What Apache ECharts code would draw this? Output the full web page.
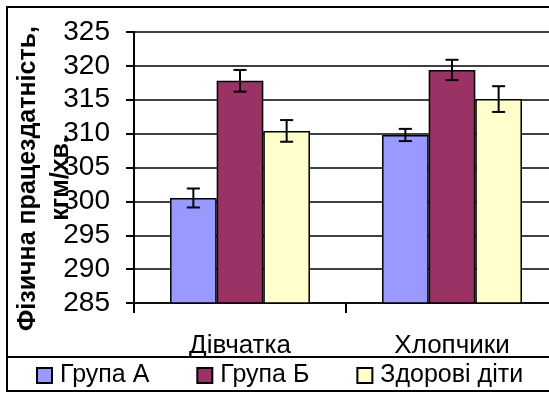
<!DOCTYPE html>
<html>
<head>
<meta charset="utf-8">
<script src="https://cdn.jsdelivr.net/npm/echarts@6/dist/echarts.min.js"></script>
<style>
html,body{margin:0;padding:0;background:#fff;}
#c{width:549px;height:394px;}
</style>
</head>
<body>
<div id="c"></div>
<script>
const categories = ['Дівчатка', 'Хлопчики'];
const seriesNames = ['Група А', 'Група Б', 'Здорові діти'];
const groupA = [300.5, 309.8];
const groupB = [317.8, 319.4];
const healthy = [310.4, 315.1];
const errA = [1.4, 0.9];
const errB = [1.6, 1.5];
const errH = [1.6, 1.9];
const yTicks = [285, 290, 295, 300, 305, 310, 315, 320, 325];
const yTitle = 'Фізична працездатність,\nкгм/хв.';

const colors = ['#9999FF', '#993366', '#FFFFCC'];
const values = [groupA, groupB, healthy];
const errs = [errA, errB, errH];
const GAP = 0.34;

const errData = [];
values.forEach((arr, k) => {
  arr.forEach((v, i) => {
    errData.push([i, v - errs[k][i], v + errs[k][i], k]);
  });
});

const FONT = "'Liberation Sans', Arial, sans-serif";

const chart = echarts.init(document.getElementById('c'), null, {renderer: 'canvas'});
const option = {
  animation: false,
  backgroundColor: '#fff',
  textStyle: {fontFamily: FONT, color: '#000'},
  grid: {left: 134, right: -9, top: 32, bottom: 91, containLabel: false, outerBoundsMode: 'none'},
  legend: {
    data: seriesNames,
    left: 36, top: 363, padding: 0,
    itemWidth: 15, itemHeight: 15, itemGap: 47,
    icon: 'rect',
    textStyle: {fontFamily: FONT, fontSize: 25, color: '#000', padding: [0, 0, 0, 3]}
  },
  xAxis: {
    type: 'category',
    data: categories,
    axisLine: {lineStyle: {color: '#000', width: 1.5}},
    axisTick: {show: true, length: 10, lineStyle: {color: '#000', width: 2}},
    axisLabel: {fontFamily: FONT, fontSize: 26, color: '#000', margin: 30}
  },
  yAxis: {
    type: 'value',
    min: yTicks[0], max: yTicks[yTicks.length - 1], interval: 5,
    name: yTitle,
    nameLocation: 'middle',
    nameRotate: 90,
    nameGap: 56,
    nameMoveOverlap: false,
    nameTextStyle: {fontFamily: FONT, fontSize: 25, fontWeight: 'bold', color: '#000', lineHeight: 33, padding: [0, 22, 0, 0]},
    axisLine: {show: true, lineStyle: {color: '#000', width: 2}},
    axisTick: {show: true, length: 8, lineStyle: {color: '#000', width: 2}},
    axisLabel: {fontFamily: FONT, fontSize: 28, color: '#000', margin: 24},
    splitLine: {show: true, lineStyle: {color: '#000', width: 1.5}}
  },
  graphic: [
    {type: 'rect', shape: {x: 7, y: 7, width: 600, height: 384}, style: {fill: 'none', stroke: '#000', lineWidth: 2}, z: 100},
    {type: 'line', shape: {x1: 7, y1: 357, x2: 560, y2: 357}, style: {stroke: '#000', lineWidth: 2}, z: 100}
  ],
  series: values.map((arr, k) => ({
    name: seriesNames[k],
    type: 'bar',
    data: arr,
    barGap: '0%',
    barCategoryGap: (GAP * 100) + '%',
    itemStyle: {color: colors[k], borderColor: '#000', borderWidth: 1.5}
  })).concat([{
    type: 'custom',
    name: 'err',
    data: errData,
    encode: {x: 0, y: [1, 2]},
    z: 10,
    renderItem: function (params, api) {
      const cat = api.value(0), lo = api.value(1), hi = api.value(2), k = api.value(3);
      const band = api.size([1, 0])[0];
      const bw = band * (1 - GAP) / 3;
      const cx = api.coord([cat, lo])[0] + (k - 1) * bw;
      const yt = api.coord([cat, hi])[1];
      const yb = api.coord([cat, lo])[1];
      const hw = 6.5;
      const st = {stroke: '#000', lineWidth: 2};
      return {type: 'group', children: [
        {type: 'line', shape: {x1: cx, y1: yt, x2: cx, y2: yb}, style: st},
        {type: 'line', shape: {x1: cx - hw, y1: yt, x2: cx + hw, y2: yt}, style: st},
        {type: 'line', shape: {x1: cx - hw, y1: yb, x2: cx + hw, y2: yb}, style: st}
      ]};
    }
  }])
};
chart.setOption(option);
</script>
</body>
</html>
